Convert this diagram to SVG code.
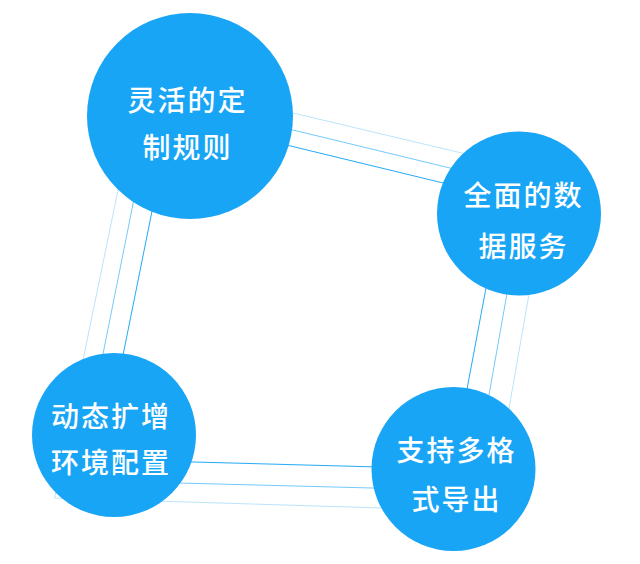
<svg xmlns="http://www.w3.org/2000/svg" width="640" height="564" viewBox="0 0 640 564">
<style>
.c{fill:#19a5f6}
.t{fill:#fff;font-family:"Noto Sans CJK SC","Noto Sans",sans-serif;font-size:28px;font-weight:500;text-anchor:middle;letter-spacing:2px}
.q{fill:none;stroke:#19a5f6;stroke-width:1}
</style>
<rect width="640" height="564" fill="#fff"/>
<g id="connectors">
<polygon class="q" points="141.3,77 550,174 491,511.3 54.6,498" stroke-opacity="0.3"/>
<polygon class="q" points="154.5,96.5 526,186.4 472,490.6 77.7,480.4" stroke-opacity="0.6"/>
<polygon class="q" points="171,117 503,197.5 452,469 102,459.5" stroke-opacity="0.95"/>
</g>
<g id="node1">
<circle class="c" cx="190" cy="116" r="103"/>
<text class="t" x="187.5" y="110.5">灵活的定</text>
<text class="t" x="187.5" y="157.5">制规则</text>
</g>
<g id="node2">
<circle class="c" cx="519" cy="213.5" r="82"/>
<text class="t" x="523.5" y="206">全面的数</text>
<text class="t" x="523.5" y="256.5">据服务</text>
</g>
<g id="node3">
<circle class="c" cx="453.5" cy="469" r="82"/>
<text class="t" x="456.5" y="461">支持多格</text>
<text class="t" x="456.5" y="510">式导出</text>
</g>
<g id="node4">
<circle class="c" cx="114" cy="435" r="82"/>
<text class="t" x="111" y="426.5">动态扩增</text>
<text class="t" x="111" y="472.5">环境配置</text>
</g>
</svg>
